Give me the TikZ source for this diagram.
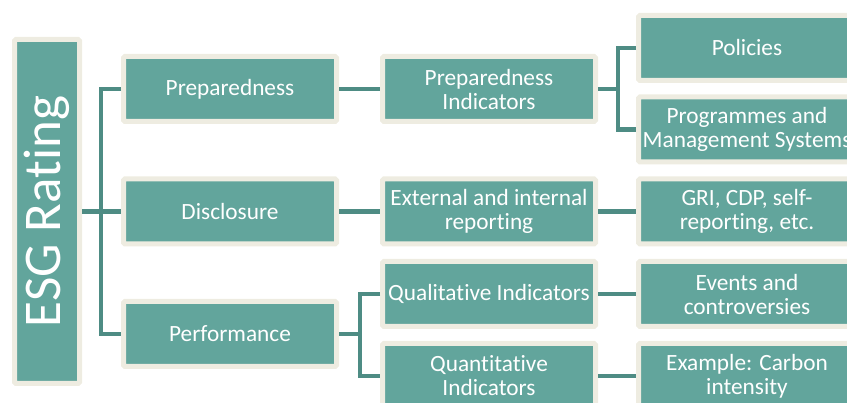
\documentclass[tikz,border=0pt]{standalone}
\usepackage{fontspec}
\setmainfont{Carlito}[Ligatures=NoCommon]
\definecolor{tealbox}{HTML}{62A59C}
\definecolor{creamrim}{HTML}{EEECE1}
\definecolor{tealline}{HTML}{4E8C84}

\begin{document}
\begin{tikzpicture}[x=1pt, y=-1pt,
	every node/.style={rectangle, fill=tealbox, draw=creamrim, line width=5pt, rounded corners=1.5pt, text=white, inner sep=0pt, align=center, minimum width=213pt, minimum height=65pt, font=\fontsize{23.3}{24}\selectfont},
	link/.style={draw=tealline, line width=4.5pt}]
			\useasboundingbox (0,0) rectangle (847,403);
			\clip (0,0) rectangle (847,403);
			
			\node[minimum width=65pt, minimum height=344pt, font=\fontsize{53}{60}\selectfont] (esg) at (47,211.5){\rotatebox{90}{ESG Rating}};
			
			\node (prep) at (230,89){Preparedness};
			\node (disc) at (230,211.5){Disclosure};
			\node (perf) at (230,334){Performance};
			
			\node (prepind) at (489,89){Preparedness\\Indicators};
			\node (report) at (489,211.5){External and internal\\reporting};
			\node (qual) at (489,294){Qualitative Indicators};
			\node (quant) at (489,376){Quantitative\\Indicators};
			
			\node[minimum width=217pt] (pol) at (747,48){Policies};
			\node[minimum width=217pt] (prog) at (747,129.5){Programmes and\\Management Systems};
			\node[minimum width=217pt] (gri) at (747,211.5){GRI, CDP, self-\\reporting, etc.};
			\node[minimum width=217pt] (events) at (747,294){Events and\\controversies};
			\node[minimum width=217pt] (carbon) at (747,376){Example: Carbon\\intensity};
			
			\path[link] (esg) edge (disc);
			\draw[link] (prep.west) -- ++(-20,0) |- (perf.west);
			
			\path[link] (prep) edge (prepind);
			\path[link] (disc) edge (report);
			\draw[link] (qual.west) -- ++(-20,0) coordinate (perfjoin) |- (quant.west);
			\draw[link] (perf.east) -- (perf.east -| perfjoin);
			
			\draw[link] (pol.west) -- ++(-18,0) coordinate (prepjoin) |- (prog.west);
			\draw[link] (prepind.east) -- (prepind.east -| prepjoin);
			\path[link] (report) edge (gri);
			\path[link] (qual) edge (events);
			\path[link] (quant) edge (carbon);
			\end{tikzpicture}
\end{document}
